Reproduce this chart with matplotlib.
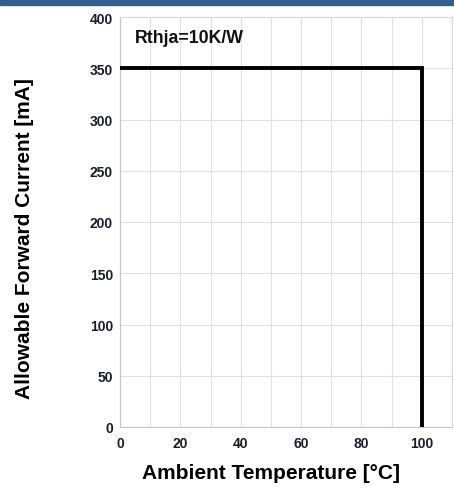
import matplotlib
matplotlib.use("Agg")
import matplotlib.pyplot as plt
from matplotlib.patches import Rectangle

plt.rcParams['font.family'] = ['Liberation Sans', 'DejaVu Sans']

# derating curve
temp = [0, 100, 100]
current = [350, 350, 0]
x_ticks = [0, 20, 40, 60, 80, 100]
y_ticks = [0, 50, 100, 150, 200, 250, 300, 350, 400]

W, H = 454, 489
fig = plt.figure(figsize=(W / 100, H / 100), dpi=100)
fig.patches.append(Rectangle((0, 1 - 6 / H), 1, 6 / H, transform=fig.transFigure,
                             color='#345e8f', zorder=0))

ax = fig.add_axes([120 / W, 1 - 428 / H, (452 - 120) / W, (428 - 18) / H])
ax.plot(temp, current, color='black', lw=2.8, solid_joinstyle='miter', zorder=3)

ax.set_xlim(0, 110)
ax.set_ylim(0, 400)
ax.set_xticks(x_ticks)
ax.set_xticks(range(0, 111, 10), minor=True)
ax.set_yticks(y_ticks)
ax.grid(True, which='both', axis='x', color='#e0e0e0', lw=0.8)
ax.grid(True, which='major', axis='y', color='#e0e0e0', lw=0.8)
ax.tick_params(which='both', length=0)
ax.tick_params(axis='x', pad=6.5)
ax.tick_params(axis='y', pad=5)
for lab in ax.get_xticklabels() + ax.get_yticklabels():
    lab.set_fontweight('bold')
    lab.set_fontsize(10)
    lab.set_color('#1b1b2b')
for s in ax.spines.values():
    s.set_color('#dadada')
    s.set_linewidth(0.9)
ax.spines['left'].set_color('#c8c8c8')
ax.spines['bottom'].set_color('#c8c8c8')

ax.text(5, 380, 'Rthja=10K/W', fontsize=12.8, fontweight='bold', color='#111111',
        va='center', ha='left')

ax.set_xlabel('Ambient Temperature [°C]', fontsize=15, fontweight='bold')
ax.set_ylabel('Allowable Forward Current [mA]', fontsize=15, fontweight='bold')
ax.xaxis.set_label_coords(0.455, -0.112)
ax.yaxis.set_label_coords(-0.289, 0.462)
ax.xaxis.label.set_va('center')
ax.yaxis.label.set_va('center')

fig.savefig('out.png', dpi=100)
